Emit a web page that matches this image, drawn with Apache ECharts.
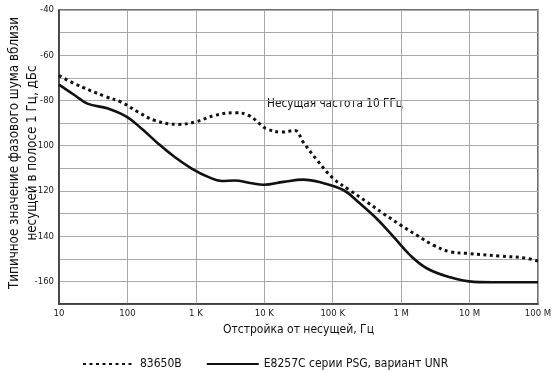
<!DOCTYPE html>
<html><head><meta charset="utf-8">
<script src="https://cdn.jsdelivr.net/npm/echarts@6/dist/echarts.min.js"></script>
<style>html,body{margin:0;padding:0;background:#fff}#c{width:553px;height:372px}</style>
</head><body><div id="c"></div>
<script>
const seriesNames = ['83650B', 'E8257C серии PSG, вариант UNR'];
const freq83650B = [10, 17, 47, 81, 143, 250, 550, 980, 1900, 3700, 5900, 9100, 10700, 17800, 28000, 37000, 59000, 102000, 178000, 316000, 550000, 980000, 1.7e6, 2.95e6, 5.2e6, 9.1e6, 2.8e7, 6.2e7, 1e8];
const db83650B = [-69, -72.6, -78.2, -80.7, -85.1, -88.8, -90.6, -89.5, -86.6, -85.4, -86.6, -91, -92.5, -94, -93.3, -98.4, -106.4, -114.5, -119.7, -124.9, -130, -135.1, -139.6, -144, -146.9, -147.6, -148.8, -149.6, -151];
const freqE8257C = [10, 17, 26, 52, 98, 162, 282, 490, 870, 1510, 2400, 3700, 6200, 9800, 19000, 37000, 72000, 145000, 251000, 437000, 776000, 1.35e6, 2.4e6, 5.2e6, 1.15e7, 2.8e7, 1e8];
const dbE8257C = [-73, -77.7, -81.4, -83.6, -87.3, -92.5, -99.1, -105, -110.1, -113.8, -115.6, -115.4, -116.5, -117.3, -116, -115, -116.5, -119.7, -125.6, -132.2, -140.3, -148.4, -154.3, -158.2, -160.2, -160.4, -160.4];
const xTickValues = [10, 100, 1e3, 1e4, 1e5, 1e6, 1e7, 1e8];
const xTickLabels = ['10', '100', '1 K', '10 K', '100 K', '1 M', '10 M', '100 M'];
const yTickLabels = [-40, -60, -80, -100, -120, -140, -160];
const xAxisTitle = 'Отстройка от несущей, Гц';
const yAxisTitle = 'Типичное значение фазового шума вблизи\nнесущей в полосе 1 Гц, дБс';
const annotation = 'Несущая частота 10 ГГц';

const FONT = "'Liberation Sans Narrow', 'DejaVu Sans Condensed', 'Arial Narrow', sans-serif";
const pairs = (xs, ys) => xs.map((x, i) => [x, ys[i]]);

const chart = echarts.init(document.getElementById('c'), null, {renderer: 'canvas'});
chart.setOption({
  animation: false,
  backgroundColor: '#fff',
  textStyle: {fontFamily: FONT},
  grid: {left: 59, right: 15, top: 10, bottom: 68, containLabel: false, outerBoundsMode: 'none',
         show: true, borderColor: '#444', borderWidth: 1.5, backgroundColor: 'transparent'},
  xAxis: {
    type: 'log', logBase: 10, min: 10, max: 1e8,
    name: xAxisTitle, nameLocation: 'middle', nameGap: 17,
    nameTextStyle: {fontFamily: FONT, fontSize: 12, color: '#111'},
    axisLine: {lineStyle: {color: '#333', width: 1.5}},
    axisTick: {show: false},
    minorTick: {show: false},
    splitLine: {show: true, lineStyle: {color: '#a8a8a8', width: 1}},
    axisLabel: {
      fontFamily: FONT, fontSize: 9.5, color: '#222', margin: 5,
      formatter: v => {
        const i = xTickValues.findIndex(t => Math.abs(Math.log10(t) - Math.log10(v)) < 0.01);
        return i >= 0 ? xTickLabels[i] : '';
      }
    }
  },
  yAxis: {
    type: 'value', min: -170, max: -40, interval: 10,
    axisLine: {show: true, lineStyle: {color: '#333', width: 1.5}},
    axisTick: {show: false},
    splitLine: {show: true, lineStyle: {color: '#a8a8a8', width: 1}},
    axisLabel: {
      fontFamily: FONT, fontSize: 9.5, color: '#222', margin: 5,
      formatter: v => yTickLabels.includes(v) ? String(v) : ''
    }
  },
  legend: {
    left: 77, top: 353,
    itemWidth: 52, itemHeight: 10, itemGap: 24,
    itemStyle: {opacity: 0},
    textStyle: {fontFamily: FONT, fontSize: 12, color: '#111'},
    data: seriesNames
  },
  graphic: [{
    type: 'text', left: 267, top: 98,
    style: {text: annotation, fontFamily: FONT, fontSize: 11.7, fill: '#111'}
  }, {
    type: 'text', x: 24, y: 153, rotation: Math.PI / 2,
    style: {text: yAxisTitle, fontFamily: FONT, fontSize: 13.3, lineHeight: 18,
            fill: '#111', align: 'center', verticalAlign: 'middle'}
  }],
  series: [
    {
      name: seriesNames[0], type: 'line', smooth: 0.4, symbol: 'none',
      data: pairs(freq83650B, db83650B),
      lineStyle: {color: '#111', width: 3, type: [3, 3.5], cap: 'butt'},
      itemStyle: {color: '#111', opacity: 0}
    },
    {
      name: seriesNames[1], type: 'line', smooth: 0.4, symbol: 'none',
      data: pairs(freqE8257C, dbE8257C),
      lineStyle: {color: '#111', width: 2.6, type: 'solid'},
      itemStyle: {color: '#111', opacity: 0}
    }
  ]
});
</script>
</body></html>
